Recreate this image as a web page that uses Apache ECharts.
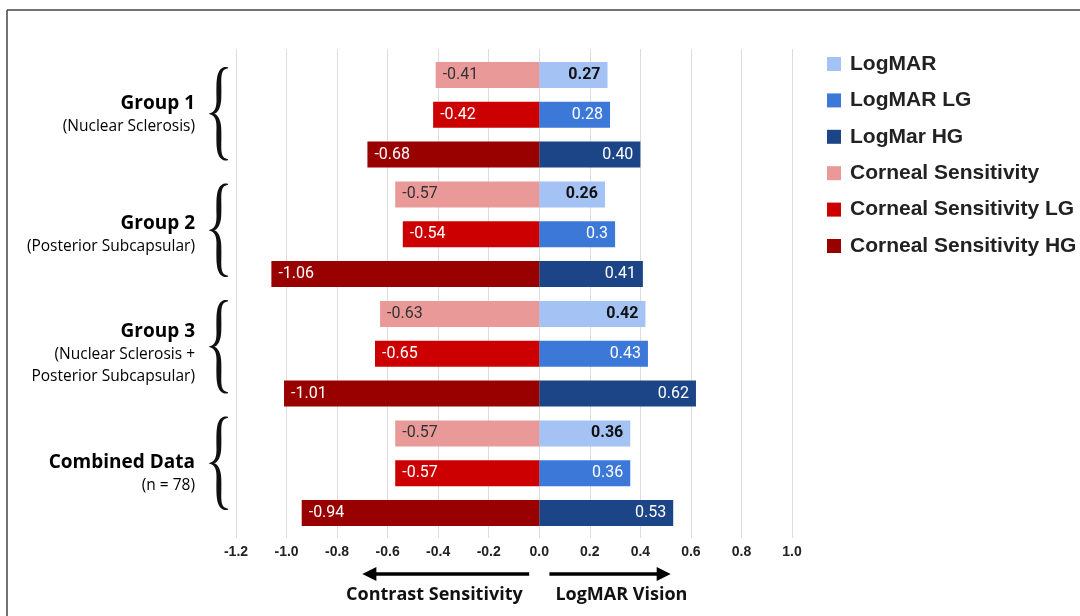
<!DOCTYPE html>
<html>
<head>
<meta charset="utf-8">
<script src="https://cdn.jsdelivr.net/npm/echarts@6/dist/echarts.min.js"></script>
<style>
  html, body { margin: 0; padding: 0; background: #fff; }
  #chart { width: 1080px; height: 616px; }
</style>
</head>
<body>
<div id="chart"></div>
<script>
// ---------------- data ----------------
const groups = ['Group 1', 'Group 2', 'Group 3', 'Combined Data'];
const groupNotes = ['(Nuclear Sclerosis)', '(Posterior Subcapsular)', '(Nuclear Sclerosis +\nPosterior Subcapsular)', '(n = 78)'];
const levels = ['', 'LG', 'HG'];
const logmar   = ['0.27', '0.26', '0.42', '0.36'];
const logmarLG = ['0.28', '0.3',  '0.43', '0.36'];
const logmarHG = ['0.40', '0.41', '0.62', '0.53'];
const cornealS   = ['-0.41', '-0.57', '-0.63', '-0.57'];
const cornealSLG = ['-0.42', '-0.54', '-0.65', '-0.57'];
const cornealSHG = ['-0.68', '-1.06', '-1.01', '-0.94'];
const xMin = -1.2, xMax = 1.0, xStep = 0.2;
const leftTitle = 'Contrast Sensitivity';
const rightTitle = 'LogMAR Vision';

// ---------------- build ----------------
const categories = [];
groups.forEach(g => levels.forEach(l => categories.push(g + (l ? ' ' + l : ''))));

const seriesDefs = [
  { name: 'LogMAR', vals: logmar, level: 0, color: '#a4c2f4', lc: '#111', bold: true, pos: 'insideRight' },
  { name: 'LogMAR LG', vals: logmarLG, level: 1, color: '#3c78d8', lc: '#fff', pos: 'insideRight' },
  { name: 'LogMar HG', vals: logmarHG, level: 2, color: '#1c4587', lc: '#fff', pos: 'insideRight' },
  { name: 'Corneal Sensitivity', vals: cornealS, level: 0, color: '#ea9999', lc: '#333', pos: 'insideLeft' },
  { name: 'Corneal Sensitivity LG', vals: cornealSLG, level: 1, color: '#cc0000', lc: '#fff', pos: 'insideLeft' },
  { name: 'Corneal Sensitivity HG', vals: cornealSHG, level: 2, color: '#990000', lc: '#fff', pos: 'insideLeft' }
];

const series = seriesDefs.map(d => {
  const data = categories.map(() => null);
  d.vals.forEach((s, gi) => { data[gi * 3 + d.level] = { value: Number(s), txt: s }; });
  return {
    name: d.name,
    type: 'bar',
    data: data,
    barWidth: 26,
    barGap: '-100%',
    itemStyle: { color: d.color },
    label: {
      show: true,
      position: d.pos,
      distance: 7,
      color: d.lc,
      fontFamily: 'Roboto',
      fontSize: 16,
      fontWeight: d.bold ? 'bold' : 'normal',
      formatter: p => p.data ? p.data.txt : ''
    },
    emphasis: { disabled: true },
    animation: false
  };
});

const chart = echarts.init(document.getElementById('chart'), null, { renderer: 'canvas' });

const gridColor = '#dcdcdc';
chart.setOption({
  backgroundColor: '#fff',
  animation: false,
  grid: { left: 236, right: 288, top: 55, bottom: 83 },
  legend: {
    orient: 'vertical',
    left: 827,
    top: 53,
    padding: 0,
    itemWidth: 14,
    itemHeight: 14,
    itemGap: 14.4,
    icon: 'rect',
    selectedMode: false,
    data: seriesDefs.map(d => d.name),
    textStyle: {
      fontFamily: 'Liberation Sans',
      fontWeight: 'bold',
      fontSize: 21,
      color: '#222',
      lineHeight: 22,
      padding: [0, 0, 0, 4]
    }
  },
  xAxis: [
    {
      type: 'value', min: xMin, max: xMax, interval: xStep, position: 'bottom',
      axisLine: { show: false },
      axisTick: { show: true, length: 5, lineStyle: { color: gridColor } },
      splitLine: { show: true, lineStyle: { color: gridColor, width: 1 } },
      axisLabel: {
        margin: 12, fontFamily: 'Liberation Sans', fontWeight: 'bold', fontSize: 14, color: '#222',
        formatter: v => (Math.abs(v) < 1e-9 ? 0 : v).toFixed(1)
      }
    },
    {
      type: 'value', min: xMin, max: xMax, interval: xStep, position: 'top',
      axisLine: { show: false },
      axisTick: { show: true, length: 6, lineStyle: { color: gridColor } },
      splitLine: { show: false },
      axisLabel: { show: false }
    }
  ],
  yAxis: {
    type: 'category', data: categories, inverse: true,
    axisLine: { show: false }, axisTick: { show: false }, axisLabel: { show: false },
    splitLine: { show: false }
  },
  series: series
});

// ---------------- annotations ----------------
function bez(p0, p1, p2, p3, n) {
  const out = [];
  for (let i = 0; i <= n; i++) {
    const t = i / n, u = 1 - t;
    out.push([
      u*u*u*p0[0] + 3*u*u*t*p1[0] + 3*u*t*t*p2[0] + t*t*t*p3[0],
      u*u*u*p0[1] + 3*u*u*t*p1[1] + 3*u*t*t*p2[1] + t*t*t*p3[1]
    ]);
  }
  return out;
}
function bracePolygon(xl, cy, w, h) {
  const xr = xl + w, xm = xl + w * 0.52, top = cy - h / 2;
  let upper = [];
  upper = upper.concat(bez([xr, top], [xm + 2, top], [xm, top + 5], [xm, top + 17], 12));
  upper = upper.concat(bez([xm, top + 17], [xm, top + 25], [xm, cy - 24], [xm, cy - 16], 6).slice(1));
  upper = upper.concat(bez([xm, cy - 16], [xm, cy - 5], [xm - 3, cy], [xl, cy], 12).slice(1));
  const lower = upper.slice(0, -1).reverse().map(p => [p[0], 2 * cy - p[1]]);
  const center = upper.concat(lower);
  const L = [0];
  for (let i = 1; i < center.length; i++) {
    L.push(L[i-1] + Math.hypot(center[i][0]-center[i-1][0], center[i][1]-center[i-1][1]));
  }
  const total = L[L.length - 1];
  const left = [], right = [];
  for (let i = 0; i < center.length; i++) {
    const a = center[Math.max(0, i - 1)], b = center[Math.min(center.length - 1, i + 1)];
    let dx = b[0] - a[0], dy = b[1] - a[1];
    const len = Math.hypot(dx, dy) || 1; dx /= len; dy /= len;
    const nx = -dy, ny = dx;
    const s = L[i] / total;
    const half = s <= 0.5 ? s * 2 : (1 - s) * 2;
    const th = 0.8 + 4.2 * Math.pow(Math.sin(Math.PI * half), 0.6) * (half > 0.9 ? 1 - (half - 0.9) * 6 : 1);
    left.push([center[i][0] + nx * th / 2, center[i][1] + ny * th / 2]);
    right.push([center[i][0] - nx * th / 2, center[i][1] - ny * th / 2]);
  }
  return left.concat(right.reverse());
}

function drawAnnotations() {
  const xp = v => chart.convertToPixel({ xAxisIndex: 0 }, v);
  const yp = c => chart.convertToPixel({ yAxisIndex: 0 }, c);
  const gx = xp(xMin);
  const elements = [];

  elements.push({ type: 'line', shape: { x1: 7, y1: 10, x2: 1080, y2: 10 }, style: { stroke: '#444', lineWidth: 1.5 }, silent: true });
  elements.push({ type: 'line', shape: { x1: 7, y1: 10, x2: 7, y2: 616 }, style: { stroke: '#444', lineWidth: 1.5 }, silent: true });

  groups.forEach((g, gi) => {
    const mid = yp(categories[gi * 3 + 1]);
    const noteLines = groupNotes[gi].split('\n');
    const text = '{t|' + g + '}\n' + noteLines.map(s => '{s|' + s + '}').join('\n');
    elements.push({
      type: 'text', silent: true,
      style: {
        text: text, x: gx - 41, y: mid, align: 'right', verticalAlign: 'middle',
        rich: {
          t: { fontFamily: 'Open Sans', fontWeight: 'bold', fontSize: 19, lineHeight: 24, color: '#111', align: 'right' },
          s: { fontFamily: 'Open Sans', fontSize: 15.5, lineHeight: 22, color: '#222', align: 'right' }
        }
      }
    });
    elements.push({
      type: 'polygon', silent: true,
      shape: { points: bracePolygon(gx - 27, mid - 1 - gi * 3, 19, 92) },
      style: { fill: '#111' }
    });
  });

  const ay = 574;
  const lx0 = xp(-0.04), lx1 = xp(-0.70);
  const rx0 = xp(0.04), rx1 = xp(0.52);
  elements.push({ type: 'line', silent: true, shape: { x1: lx0, y1: ay, x2: lx1 + 12, y2: ay }, style: { stroke: '#000', lineWidth: 3.5 } });
  elements.push({ type: 'polygon', silent: true, shape: { points: [[lx1, ay], [lx1 + 14, ay - 7], [lx1 + 14, ay + 7]] }, style: { fill: '#000' } });
  elements.push({ type: 'line', silent: true, shape: { x1: rx0, y1: ay, x2: rx1 - 12, y2: ay }, style: { stroke: '#000', lineWidth: 3.5 } });
  elements.push({ type: 'polygon', silent: true, shape: { points: [[rx1, ay], [rx1 - 14, ay - 7], [rx1 - 14, ay + 7]] }, style: { fill: '#000' } });

  elements.push({ type: 'text', silent: true, style: { text: leftTitle, x: xp(-0.415), y: 595, align: 'center', verticalAlign: 'middle', fontFamily: 'Open Sans', fontWeight: 'bold', fontSize: 18, fill: '#111' } });
  elements.push({ type: 'text', silent: true, style: { text: rightTitle, x: xp(0.325), y: 595, align: 'center', verticalAlign: 'middle', fontFamily: 'Open Sans', fontWeight: 'bold', fontSize: 18, fill: '#111' } });

  chart.setOption({ graphic: { elements: elements } });
}
drawAnnotations();
</script>
</body>
</html>
